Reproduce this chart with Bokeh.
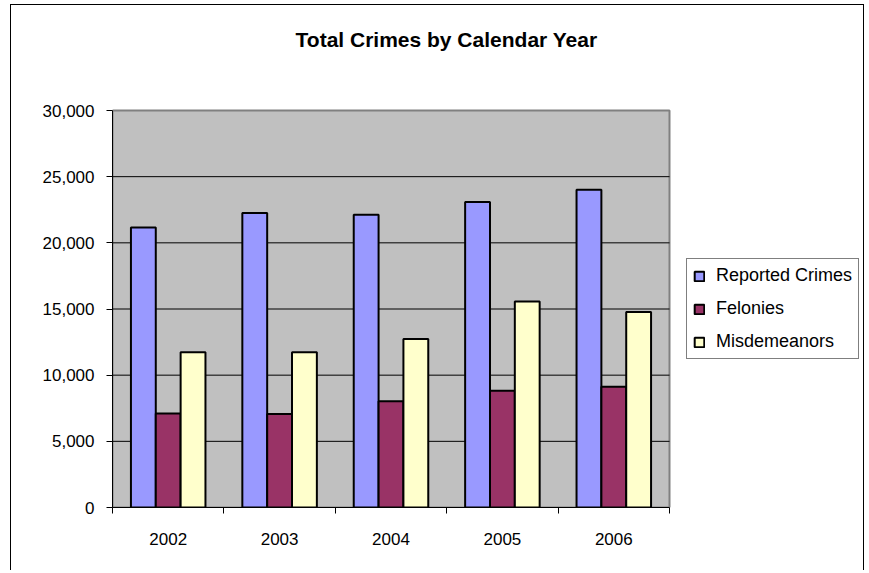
from bokeh.plotting import figure
from bokeh.models import (Range1d, FixedTicker, NumeralTickFormatter, Legend,
                          LegendItem, ColumnDataSource, BoxAnnotation, Label)
from bokeh.transform import dodge
from bokeh.embed import file_html
from bokeh.resources import INLINE

years = ["2002", "2003", "2004", "2005", "2006"]
reported = [21150, 22250, 22130, 23090, 24020]
felonies = [7100, 7060, 8020, 8820, 9130]
misdemeanors = [11730, 11730, 12740, 15560, 14780]
yticks = [0, 5000, 10000, 15000, 20000, 25000, 30000]

series_names = ["Reported Crimes", "Felonies", "Misdemeanors"]
colors = ["#9999FF", "#993366", "#FFFFCC"]
title_text = "Total Crimes by Calendar Year"

xpos = [i + 0.5 for i in range(len(years))]
src = ColumnDataSource(dict(x=xpos, reported=reported, felonies=felonies,
                            misdemeanors=misdemeanors))

FONT = "Liberation Sans"
BW = 0.223
YMAX = yticks[-1]
NCAT = len(years)

# layout geometry (pixels)
W, H = 854, 566
LEFT, BOTTOM = 101, 64
PLOT_W, PLOT_H = 557, 397          # visible grey plot area
FRAME_W, FRAME_H = W - LEFT, H - BOTTOM

x_end = NCAT * FRAME_W / PLOT_W
y_end = YMAX * FRAME_H / PLOT_H

p = figure(width=W, height=H, output_backend="svg", toolbar_location=None,
           x_range=Range1d(0, x_end), y_range=Range1d(0, y_end),
           min_border_left=LEFT, min_border_right=0, min_border_top=0,
           min_border_bottom=BOTTOM)
p.styles = {"border": "1px solid black", "border-bottom": "none",
            "margin-left": "10px", "margin-top": "4px"}

p.background_fill_color = "white"
p.border_fill_color = "white"
p.outline_line_color = None
p.xgrid.visible = False
p.ygrid.visible = False

# grey plot area
p.add_layout(BoxAnnotation(left=0, right=NCAT, bottom=0, top=YMAX,
                           fill_color="#C0C0C0", fill_alpha=1,
                           line_color="#808080", line_alpha=1, line_width=2,
                           level="underlay"))

# horizontal gridlines
inner = [t for t in yticks if 0 < t < YMAX]
p.segment(x0=[0] * len(inner), y0=inner, x1=[NCAT] * len(inner), y1=inner,
          line_color="black", line_width=1)

renderers = []
for off, key, col in zip([-BW, 0, BW], ["reported", "felonies", "misdemeanors"], colors):
    r = p.vbar(x=dodge("x", off), top=key, width=BW, bottom=0, source=src,
               fill_color=col, line_color="black", line_width=2)
    renderers.append(r)

xa = p.xaxis[0]
xa.bounds = (0, NCAT)
xa.ticker = FixedTicker(ticks=xpos, minor_ticks=list(range(NCAT + 1)))
xa.major_label_overrides = {x: y for x, y in zip(xpos, years)}
xa.major_tick_out = 0
xa.major_tick_in = 0
xa.minor_tick_out = 6
xa.minor_tick_in = 0
xa.minor_tick_line_color = "black"
xa.axis_line_color = "black"
xa.major_label_text_font = FONT
xa.major_label_text_font_size = "17px"
xa.major_label_text_color = "black"
xa.major_label_standoff = 19

ya = p.yaxis[0]
ya.bounds = (0, YMAX)
ya.ticker = FixedTicker(ticks=yticks)
ya.formatter = NumeralTickFormatter(format="0,0")
ya.major_tick_out = 6
ya.major_tick_in = 0
ya.minor_tick_out = 0
ya.minor_tick_in = 0
ya.axis_line_color = "black"
ya.major_tick_line_color = "black"
ya.major_label_text_font = FONT
ya.major_label_text_font_size = "17px"
ya.major_label_text_color = "black"
ya.major_label_standoff = 12

# title (centred over the chart area)
title_px_x, title_px_y = 334, 468   # offset from plot-area bottom-left
p.add_layout(Label(x=NCAT * title_px_x / PLOT_W, y=YMAX * title_px_y / PLOT_H,
                   text=title_text, text_align="center", text_baseline="middle",
                   text_font=FONT, text_font_size="21px", text_font_style="bold",
                   text_color="black"))

legend = Legend(items=[LegendItem(label=n, renderers=[r]) for n, r in zip(series_names, renderers)],
                location=(574, 148), margin=0, padding=6, spacing=12,
                glyph_width=12, glyph_height=12, label_height=20,
                label_standoff=11, label_text_font=FONT, label_text_font_size="18px",
                label_text_color="black", border_line_color="black",
                background_fill_color="white")
p.add_layout(legend, "center")

open("out.html", "w").write(file_html(p, INLINE))
